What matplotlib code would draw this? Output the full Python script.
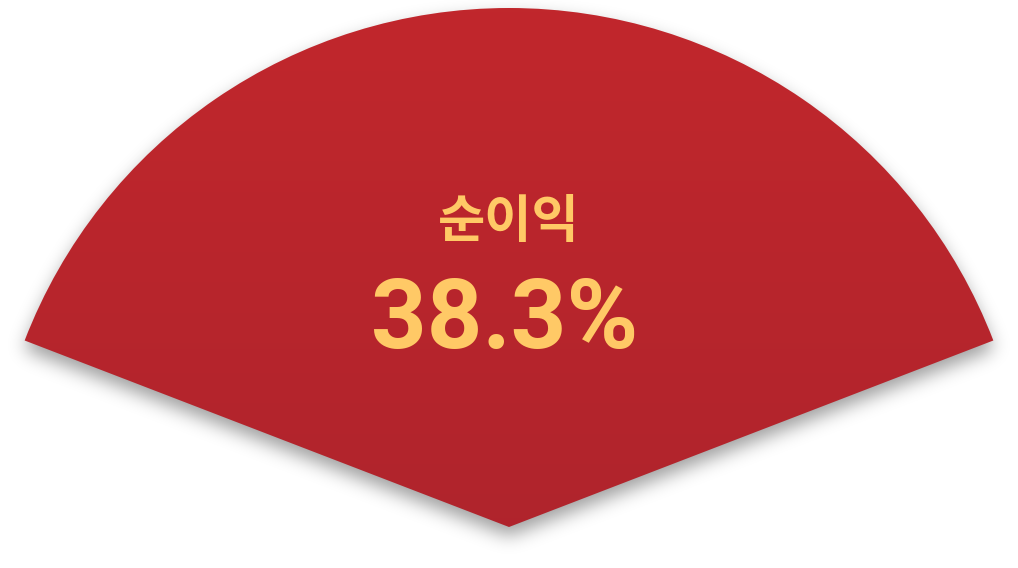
import numpy as np
import matplotlib
matplotlib.use('Agg')
import matplotlib.pyplot as plt
from matplotlib.patches import Wedge

# data
label = '순이익'
share = 38.3          # percent of the whole pie
W, H = 1018, 568

span = share * 3.6
theta1 = 90 - span / 2
theta2 = 90 + span / 2
cx, cy, r = 509, 41, 519

fig = plt.figure(figsize=(W / 100, H / 100), dpi=100)
ax = fig.add_axes([0, 0, 1, 1])
ax.set_xlim(0, W)
ax.set_ylim(0, H)
ax.axis('off')

# soft drop shadow: wedge mask shifted down, then blurred
yy, xx = np.mgrid[0:H, 0:W] + 0.5
sx, sy = cx, cy - 9
dx, dy = xx - sx, yy - sy
ang = np.degrees(np.arctan2(dy, dx))
mask = ((np.hypot(dx, dy) <= r) & (ang >= theta1) & (ang <= theta2)).astype(float)
sig = 9
k = np.arange(-3 * sig, 3 * sig + 1)
kern = np.exp(-k**2 / (2 * sig**2))
kern /= kern.sum()
blur = np.apply_along_axis(lambda v: np.convolve(v, kern, mode='same'), 1, mask)
blur = np.apply_along_axis(lambda v: np.convolve(v, kern, mode='same'), 0, blur)
shadow = np.zeros((H, W, 4))
shadow[..., 3] = 0.38 * blur
ax.imshow(shadow, extent=[0, W, 0, H], origin='lower', zorder=1, interpolation='bilinear')

# wedge with vertical red gradient
grad = np.linspace(0, 1, 256)[:, None]
top = np.array([0.757, 0.153, 0.176])
bot = np.array([0.690, 0.141, 0.176])
img = bot + (top - bot) * grad[..., None]
img = np.repeat(img, 2, axis=1)
im = ax.imshow(img, extent=[cx - r, cx + r, cy, cy + r], origin='lower',
               aspect='auto', zorder=2, interpolation='bilinear')
wedge = Wedge((cx, cy), r, theta1, theta2, facecolor='none', edgecolor='none')
ax.add_patch(wedge)
im.set_clip_path(wedge)

ax.text(cx, H - 222, label, ha='center', va='center', color='#FFC966',
        fontsize=37, fontweight='bold', family=['Noto Sans CJK KR', 'DejaVu Sans'], zorder=3)
ax.text(cx - 4, H - 348, f'{share}%', ha='center', va='baseline', color='#FFC966',
        fontsize=70, fontweight='bold', family=['Roboto', 'DejaVu Sans'], zorder=3)

fig.savefig('out.png', dpi=100)
